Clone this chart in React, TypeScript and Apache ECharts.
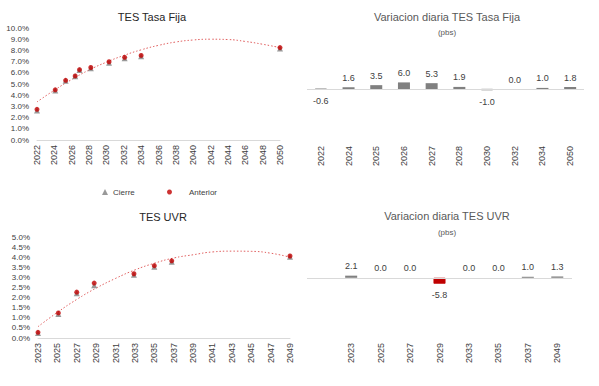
import { useEffect, useRef } from "react";
import * as echarts from "echarts";

// ---- TES Tasa Fija (curve) ----
const TF_YEARS = [2022.0, 2024.1, 2025.3, 2026.4, 2026.9, 2028.2, 2030.3, 2032.1, 2034.0, 2050.0];
const TF_ANTERIOR = [2.74, 4.48, 5.33, 5.72, 6.28, 6.47, 6.99, 7.38, 7.55, 8.25];
const TF_CIERRE = [2.73, 4.5, 5.37, 5.78, 6.33, 6.49, 6.98, 7.38, 7.56, 8.27];
const TF_TREND_YEARS = [2022, 2024, 2026, 2028, 2030, 2032, 2034, 2036, 2038, 2040, 2042, 2044, 2046, 2048, 2050];
const TF_TREND = [3.4, 4.45, 5.4, 6.25, 6.95, 7.55, 8.05, 8.45, 8.75, 8.93, 9.0, 8.97, 8.8, 8.55, 8.25];

// ---- TES UVR (curve) ----
const UVR_BASE = 2023;
const UVR_YEARS = [2023.0, 2025.1, 2027.0, 2028.8, 2032.9, 2035.0, 2036.8, 2049.0];
const UVR_ANTERIOR = [0.28, 1.24, 2.27, 2.72, 3.18, 3.58, 3.82, 4.06];
const UVR_CIERRE = [0.3, 1.24, 2.27, 2.66, 3.18, 3.58, 3.83, 4.07];
const UVR_TREND_YEARS = [2023, 2025, 2027, 2029, 2031, 2033, 2035, 2037, 2039, 2041, 2043, 2045, 2047, 2049];
const UVR_TREND = [0.56, 1.27, 1.91, 2.47, 2.95, 3.37, 3.7, 3.96, 4.12, 4.26, 4.3, 4.29, 4.2, 4.0];

// ---- Variacion diaria (pbs) ----
const TF_BAR_CATS = ["2022", "2024", "2025", "2026", "2027", "2028", "2030", "2032", "2034", "2050"];
const TF_BAR_VALS = [-0.6, 1.6, 3.5, 6.0, 5.3, 1.9, -1.0, 0.0, 1.0, 1.8];
const UVR_BAR_CATS = ["", "2023", "2025", "2027", "2029", "2033", "2035", "2037", "2049"];
const UVR_BAR_VALS: (number | null)[] = [null, 2.1, 0.0, 0.0, -5.8, 0.0, 0.0, 1.0, 1.3];

const FONT = "Liberation Sans";
const AXIS_TXT = "#404040";
const GRID_LINE = "#d9d9d9";
const GRAY = "#808080";
const RED = "#c00000";

function barData(vals: (number | null)[], negColor: string) {
  return vals.map((v) => {
    if (v === null) return { value: null };
    const neg = v < 0;
    return {
      value: v,
      itemStyle: neg
        ? { color: negColor, borderColor: negColor, borderWidth: 0.8 }
        : { color: GRAY },
      label: { position: neg ? "bottom" : "top", distance: neg ? 7 : 5 },
    };
  });
}

function pctAxis(gridIndex: number, max: number, interval: number) {
  return {
    type: "value",
    gridIndex,
    min: 0,
    max,
    interval,
    axisLine: { show: false },
    axisTick: { show: false },
    splitLine: { show: false },
    axisLabel: {
      margin: 8,
      fontSize: 8,
      fontFamily: FONT,
      color: AXIS_TXT,
      formatter: (v: number) => v.toFixed(1) + "%",
    },
  };
}

function yearAxis(gridIndex: number, min: number, max: number, fmt: (v: number) => string) {
  return {
    type: "value",
    gridIndex,
    min,
    max,
    interval: 2,
    axisLine: { show: true, lineStyle: { color: GRID_LINE, width: 1 } },
    axisTick: { show: false },
    splitLine: { show: false },
    axisLabel: {
      rotate: 90,
      margin: 5,
      fontSize: 9,
      fontFamily: FONT,
      color: AXIS_TXT,
      formatter: fmt,
    },
  };
}

function catAxis(gridIndex: number, data: string[], margin: number) {
  return {
    type: "category",
    gridIndex,
    data,
    position: "bottom",
    axisLine: { show: false, onZero: false },
    axisTick: { show: false },
    splitLine: { show: false },
    axisLabel: {
      rotate: 90,
      margin,
      fontSize: 9,
      fontFamily: FONT,
      color: AXIS_TXT,
      interval: 0,
    },
  };
}

function hiddenY(gridIndex: number, min: number, max: number) {
  return {
    type: "value",
    gridIndex,
    min,
    max,
    show: false,
    splitLine: { show: false },
  };
}

const zeroLine = {
  silent: true,
  symbol: ["none", "none"],
  label: { show: false },
  lineStyle: { color: GRID_LINE, type: "solid", width: 1 },
  data: [{ yAxis: 0 }],
};

const barLabel = {
  show: true,
  distance: 5,
  fontSize: 9,
  fontFamily: FONT,
  color: AXIS_TXT,
  formatter: (p: any) => (p.value === null || p.value === undefined ? "" : Number(p.value).toFixed(1)),
};

const trendStyle = { color: "#e06060", width: 1, type: [1.5, 2] as any };

function titleText(text: string, x: number, y: number, size: number, color: string) {
  return {
    type: "text",
    x,
    y,
    silent: true,
    style: {
      text,
      fill: color,
      fontSize: size,
      fontFamily: FONT,
      align: "center",
      verticalAlign: "middle",
      textAlign: "center",
      textVerticalAlign: "middle",
    },
  };
}

export default function App() {
  const ref = useRef<HTMLDivElement>(null);

  useEffect(() => {
    if (!ref.current) return;
    const chart = echarts.init(ref.current, null, { renderer: "svg" });
    const option: any = {
      animation: false,
      backgroundColor: "#ffffff",
      textStyle: { fontFamily: FONT },
      graphic: [
        titleText("TES Tasa Fija", 152, 17, 11, "#262626"),
        titleText("Variacion diaria TES Tasa Fija", 447, 17, 11, "#595959"),
        titleText("(pbs)", 447, 32, 8, "#595959"),
        titleText("TES UVR", 163, 217, 11, "#262626"),
        titleText("Variacion diaria TES UVR", 447, 216, 11, "#595959"),
        titleText("(pbs)", 447, 232, 8, "#595959"),
      ],
      legend: [
        {
          data: [{ name: "Cierre", icon: "triangle" }],
          left: 102,
          top: 188,
          itemWidth: 6,
          itemHeight: 6,
          itemGap: 6,
          padding: 0,
          textStyle: { fontSize: 8, fontFamily: FONT, color: AXIS_TXT },
        },
        {
          data: [{ name: "Anterior", icon: "circle" }],
          left: 167,
          top: 188,
          itemWidth: 5,
          itemHeight: 5,
          padding: 0,
          textStyle: { fontSize: 8, fontFamily: FONT, color: AXIS_TXT, padding: [0, 0, 0, 12] },
        },
      ],
      grid: [
        { left: 37, width: 243, top: 28, height: 112 },
        { left: 307, width: 277, top: 45, height: 88 },
        { left: 38, width: 252, top: 237, height: 101 },
        { left: 307, width: 265, top: 237, height: 102 },
      ],
      xAxis: [
        yearAxis(0, 2022, 2050, (v: number) => String(v)),
        catAxis(1, TF_BAR_CATS, 13),
        yearAxis(2, 0, 26, (v: number) => String(v + UVR_BASE)),
        catAxis(3, UVR_BAR_CATS, 4),
      ],
      yAxis: [pctAxis(0, 10, 1), hiddenY(1, -40, 40), pctAxis(2, 5, 0.5), hiddenY(3, -60, 40)],
      series: [
        {
          name: "Tendencia TF",
          type: "line",
          xAxisIndex: 0,
          yAxisIndex: 0,
          smooth: true,
          symbol: "none",
          silent: true,
          z: 1,
          lineStyle: trendStyle,
          data: TF_TREND_YEARS.map((y, i) => [y, TF_TREND[i]]),
        },
        {
          name: "Cierre",
          type: "scatter",
          xAxisIndex: 0,
          yAxisIndex: 0,
          symbol: "triangle",
          symbolSize: 6,
          symbolOffset: [0, 1],
          itemStyle: { color: GRAY },
          z: 2,
          data: TF_YEARS.map((y, i) => [y, TF_CIERRE[i]]),
        },
        {
          name: "Anterior",
          type: "scatter",
          xAxisIndex: 0,
          yAxisIndex: 0,
          symbol: "circle",
          symbolSize: 5,
          itemStyle: { color: RED },
          z: 3,
          data: TF_YEARS.map((y, i) => [y, TF_ANTERIOR[i]]),
        },
        {
          name: "Var TF",
          type: "bar",
          xAxisIndex: 1,
          yAxisIndex: 1,
          barWidth: 12,
          label: barLabel,
          markLine: zeroLine,
          data: barData(TF_BAR_VALS, "#000000"),
        },
        {
          name: "Tendencia UVR",
          type: "line",
          xAxisIndex: 2,
          yAxisIndex: 2,
          smooth: true,
          symbol: "none",
          silent: true,
          z: 1,
          lineStyle: trendStyle,
          data: UVR_TREND_YEARS.map((y, i) => [y - UVR_BASE, UVR_TREND[i]]),
        },
        {
          name: "Cierre",
          type: "scatter",
          xAxisIndex: 2,
          yAxisIndex: 2,
          symbol: "triangle",
          symbolSize: 6,
          symbolOffset: [0, 1],
          itemStyle: { color: GRAY },
          z: 2,
          data: UVR_YEARS.map((y, i) => [y - UVR_BASE, UVR_CIERRE[i]]),
        },
        {
          name: "Anterior",
          type: "scatter",
          xAxisIndex: 2,
          yAxisIndex: 2,
          symbol: "circle",
          symbolSize: 5,
          itemStyle: { color: RED },
          z: 3,
          data: UVR_YEARS.map((y, i) => [y - UVR_BASE, UVR_ANTERIOR[i]]),
        },
        {
          name: "Var UVR",
          type: "bar",
          xAxisIndex: 3,
          yAxisIndex: 3,
          barWidth: 12,
          label: barLabel,
          markLine: zeroLine,
          data: barData(UVR_BAR_VALS, RED),
        },
      ],
    };
    chart.setOption(option);
    return () => chart.dispose();
  }, []);

  return (
    <div
      ref={ref}
      style={{ position: "absolute", left: 0, top: 0, width: 599, height: 386 }}
    />
  );
}
